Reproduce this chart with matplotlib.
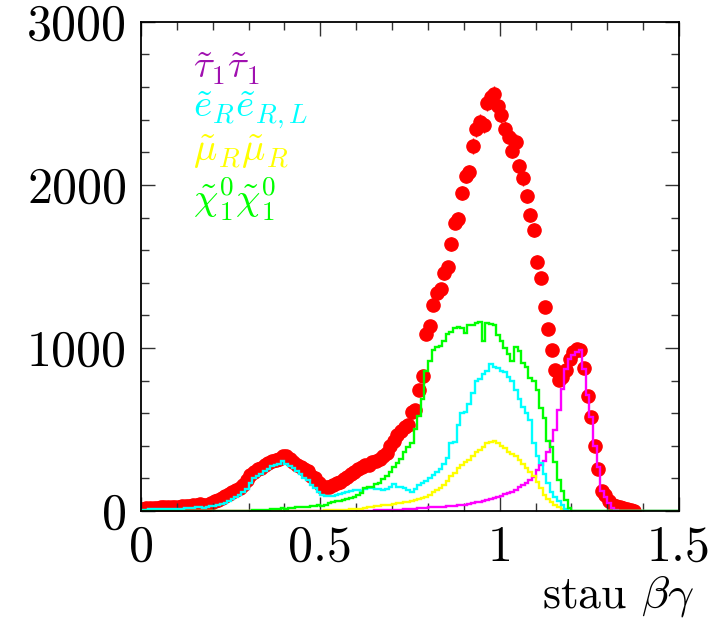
import numpy as np
import matplotlib
matplotlib.use("Agg")
import matplotlib.pyplot as plt

plt.rcParams['font.family'] = ['cmr10', 'DejaVu Serif']
plt.rcParams['mathtext.fontset'] = 'cm'
plt.rcParams['axes.formatter.use_mathtext'] = True

# bin edges of the stau beta*gamma histograms
edges = np.linspace(0, 1.5, 151)

# all events (red points)
total = [
    15, 17, 18, 20, 20, 22, 22, 23, 25, 26,
    27, 28, 30, 32, 35, 38, 42, 38, 40, 48,
    60, 68, 78, 92, 105, 115, 130, 140, 160, 190,
    220, 240, 255, 265, 280, 295, 305, 315, 320, 340,
    338, 318, 300, 285, 268, 260, 245, 215, 200, 170,
    150, 145, 150, 160, 170, 180, 195, 210, 225, 240,
    255, 270, 280, 285, 300, 305, 320, 335, 355, 400,
    430, 465, 490, 515, 530, 605, 620, 742, 828, 1084,
    1135, 1264, 1335, 1360, 1458, 1495, 1638, 1769, 1791, 1949,
    2055, 2078, 2239, 2342, 2388, 2368, 2501, 2538, 2558, 2485,
    2429, 2342, 2293, 2209, 2266, 2113, 2041, 1933, 1816, 1724,
    1530, 1431, 1253, 1115, 985, 862, 802, 820, 865, 930,
    975, 995, 990, 875, 703, 577, 397, 256, 120, 98,
    60, 40, 30, 23, 18, 12, 8, 3, 0, 0,
    0, 0, 0, 0, 0, 0, 0, 0, 0, 0,
]

# stau1 stau1
stau = [0] * 50 + [
    1, 1, 1, 1, 1, 1, 1, 1, 2, 2,
    2, 2, 3, 3, 3, 4, 4, 5, 5, 5,
    6, 7, 8, 10, 12, 14, 15, 17, 18, 20,
    22, 23, 22, 25, 27, 28, 30, 32, 35, 37,
    40, 45, 50, 55, 58, 62, 70, 72, 80, 88,
    95, 105, 110, 118, 130, 150, 160, 175, 190, 210,
    250, 280, 310, 360, 430, 500, 620, 750, 870, 930,
    955, 975, 990, 870, 710, 575, 400, 270, 125, 88,
    47, 17, 5, 2, 0, 0, 0, 0, 0, 0,
    0, 0, 0, 0, 0, 0, 0, 0, 0, 0,
]

# selectron pairs
selectron = [
    5, 8, 10, 10, 10, 12, 12, 12, 13, 14,
    14, 15, 16, 18, 20, 22, 25, 20, 22, 28,
    30, 38, 45, 52, 62, 75, 88, 100, 115, 135,
    170, 200, 215, 225, 245, 255, 275, 285, 290, 310,
    290, 275, 262, 245, 225, 205, 190, 160, 140, 115,
    100, 95, 92, 95, 100, 105, 110, 115, 125, 128,
    130, 120, 135, 140, 140, 135, 133, 130, 135, 150,
    165, 150, 148, 140, 130, 118, 135, 160, 175, 185,
    200, 220, 240, 260, 290, 325, 415, 425, 530, 600,
    610, 655, 725, 795, 810, 840, 860, 900, 885, 875,
    860, 850, 825, 800, 745, 685, 640, 600, 560, 420,
    340, 295, 230, 170, 115, 85, 60, 40, 15, 3,
] + [0] * 30

# smuon pairs
smuon = [0] * 40 + [
    0, 0, 0, 0, 0, 1, 1, 2, 2, 3,
    3, 4, 4, 5, 6, 7, 8, 9, 10, 11,
    13, 15, 18, 22, 25, 28, 32, 38, 40, 40,
    45, 47, 50, 55, 57, 62, 70, 75, 80, 88,
    100, 118, 130, 140, 160, 185, 215, 235, 262, 285,
    300, 315, 340, 360, 375, 395, 415, 425, 430, 420,
    400, 385, 365, 350, 340, 315, 290, 265, 240, 215,
    180, 140, 100, 75, 55, 40, 25, 15, 5, 1,
] + [0] * 30

# neutralino pairs
neutralino = [0] * 20 + [
    0, 0, 0, 0, 0, 1, 1, 1, 2, 2,
    3, 4, 5, 5, 6, 8, 10, 12, 15, 17,
    15, 18, 20, 22, 23, 25, 27, 30, 32, 37,
    30, 40, 50, 55, 60, 62, 68, 75, 78, 85,
    100, 110, 140, 145, 150, 165, 175, 195, 215, 240,
    270, 293, 320, 360, 390, 420, 505, 585, 690, 860,
    920, 990, 1005, 1010, 1045, 1085, 1100, 1120, 1130, 1125,
    1090, 1140, 1140, 1155, 1160, 1040, 1152, 1145, 1140, 1080,
    1040, 1000, 965, 920, 1008, 980, 910, 885, 815, 800,
    740, 630, 570, 430, 390, 300, 190, 125, 65, 20,
    3, 0, 0, 0, 0, 0, 0, 0, 0, 0,
] + [0] * 20

labels = [r'$\tilde{\tau}_1\tilde{\tau}_1$',
          r'$\tilde{e}_R\tilde{e}_{R,L}$',
          r'$\tilde{\mu}_R\tilde{\mu}_R$',
          r'$\tilde{\chi}^0_1\tilde{\chi}^0_1$']
label_colors = ['#a010b0', '#00ffff', '#ffff00', '#00ff00']

fig = plt.figure(figsize=(7.27, 6.24), dpi=100)
ax = fig.add_axes([0.194, 0.181, 0.740, 0.784])

total = np.array(total, dtype=float)
centers = 0.5 * (edges[:-1] + edges[1:])
keep = total > 0
ax.errorbar(centers[keep], total[keep], yerr=np.sqrt(total[keep]), fmt='o',
            color='#ff0000', ms=9.5, elinewidth=1, capsize=0, zorder=1)

ax.stairs(stau, edges, color='#ff00ff', lw=1.7, zorder=2)
ax.stairs(smuon, edges, color='#ffff00', lw=1.7, zorder=2)
ax.stairs(selectron, edges, color='#00ffff', lw=1.7, zorder=2)
ax.stairs(neutralino, edges, color='#00ff00', lw=1.7, zorder=2)

ax.set_xlim(0, 1.5)
ax.set_ylim(0, 3000)
ax.set_xticks([0, 0.5, 1, 1.5])
ax.set_xticklabels(['0', '0.5', '1', '1.5'])
ax.set_yticks([0, 1000, 2000, 3000])
ax.set_yticklabels(['0', '1000', '2000', '3000'])
ax.set_xticks(np.arange(0, 1.51, 0.1), minor=True)
ax.set_yticks(np.arange(0, 3001, 200), minor=True)
ax.tick_params(which='both', direction='in', top=True, right=True,
               labelsize=36, width=1, color='#333333')
ax.tick_params(which='major', length=10)
ax.tick_params(which='minor', length=6)
ax.tick_params(axis='x', pad=10)
ax.tick_params(axis='y', pad=10)
for s in ax.spines.values():
    s.set_linewidth(1.3)

fig.text(0.955, 0.026, r'stau $\beta\gamma$', ha='right', va='baseline', fontsize=33)

ys = [0.884, 0.806, 0.716, 0.613]
for lab, c, y in zip(labels, label_colors, ys):
    ax.text(0.097, y, lab, color=c, fontsize=28, transform=ax.transAxes,
            ha='left', va='baseline')

fig.savefig('out.png', dpi=100)
